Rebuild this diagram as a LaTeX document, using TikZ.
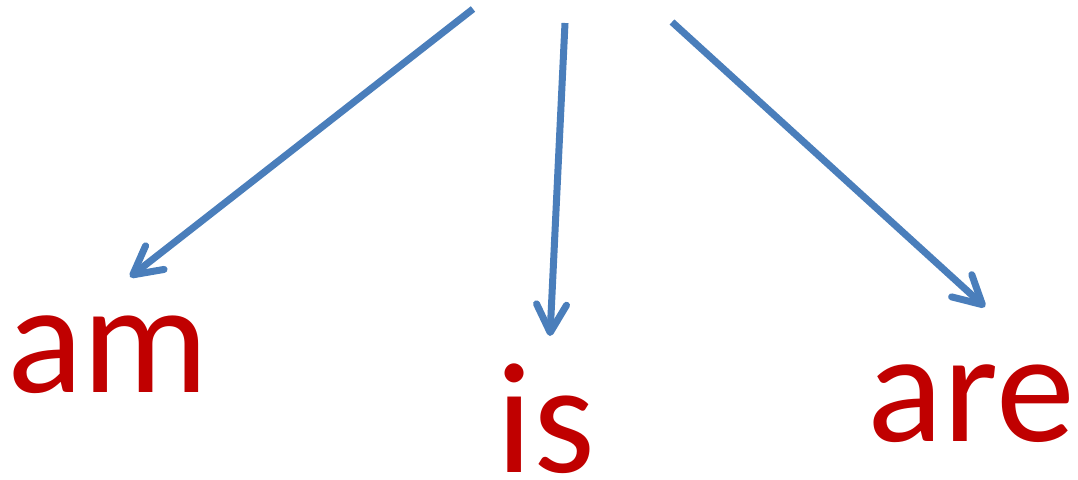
\documentclass[tikz,border=0pt]{standalone}
\usepackage{fontspec}
\setmainfont{Carlito}
\usetikzlibrary{arrows.meta}
\definecolor{wordred}{HTML}{C00000}
\definecolor{arrowblue}{HTML}{4A7EBB}
\begin{document}
\begin{tikzpicture}[x=1pt, y=-1pt,
  word/.style={text=wordred, inner sep=0pt, anchor=base, font=\fontsize{158}{160}\selectfont},
  arr/.style={draw=arrowblue, line width=7pt, -{Straight Barb[length=28pt, width=30pt, round]}}]
\useasboundingbox (0,0) rectangle (1078,479);
\node[word] (am) at (108,392) {am};
\node[word] (is) at (546,472) {is};
\node[word] (are) at (971,441) {are};
\coordinate (topam) at (473,9);
\coordinate (topis) at (565,23);
\coordinate (topare) at (672,22);
\coordinate (tipam) at (130,277);
\coordinate (tipis) at (550,336);
\coordinate (tipare) at (985,307);
\draw[arr] (topam) -- (tipam);
\draw[arr] (topis) -- (tipis);
\draw[arr] (topare) -- (tipare);
\end{tikzpicture}
\end{document}
